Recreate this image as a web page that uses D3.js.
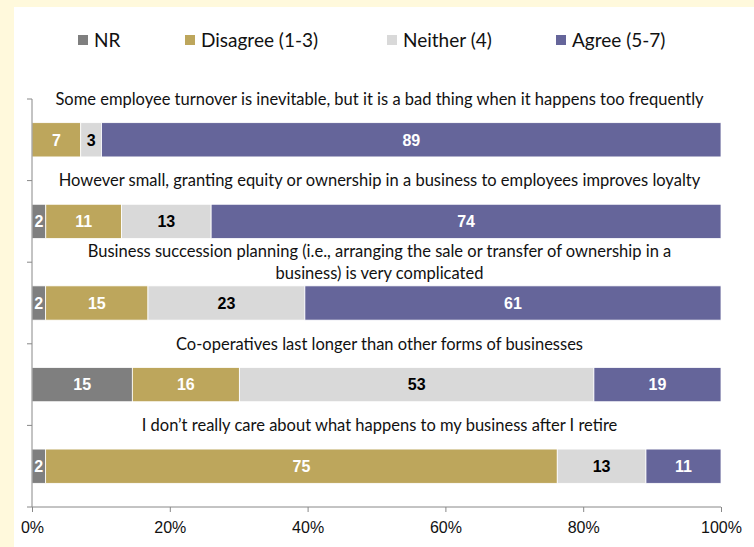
<!DOCTYPE html>
<html>
<head>
<meta charset="utf-8">
<script src="https://cdn.jsdelivr.net/npm/d3@7"></script>
<style>
  html, body { margin: 0; padding: 0; background: #fff9dc; }
  svg { display: block; }
</style>
</head>
<body>
<svg id="chart" width="754" height="547"></svg>
<script>
// Statements, top to bottom (lines split where the label wraps)
const categories = [
  ["Some employee turnover is inevitable, but it is a bad thing when it happens too frequently"],
  ["However small, granting equity or ownership in a business to employees improves loyalty"],
  ["Business succession planning (i.e., arranging the sale or transfer of ownership in a", "business) is very complicated"],
  ["Co-operatives last longer than other forms of businesses"],
  ["I don\u2019t really care about what happens to my business after I retire"]
];
const seriesNames = ["NR", "Disagree (1-3)", "Neither (4)", "Agree (5-7)"];
const nr       = [0, 2, 2, 15, 2];
const disagree = [7, 11, 15, 16, 75];
const neither  = [3, 13, 23, 53, 13];
const agree    = [89, 74, 61, 19, 11];
const tickValues = [0, 0.2, 0.4, 0.6, 0.8, 1];

const colors = ["#7f7f7f", "#bda65c", "#d9d9d9", "#65659a"];
const labelColors = ["#ffffff", "#ffffff", "#000000", "#ffffff"];

const svg = d3.select("#chart");

// white panel over the cream page
svg.append("rect").attr("x", 14).attr("y", 7).attr("width", 740).attr("height", 540).attr("fill", "#ffffff");

const rows = categories.map((c, i) => ({
  key: i, lines: c,
  NR: nr[i], "Disagree (1-3)": disagree[i], "Neither (4)": neither[i], "Agree (5-7)": agree[i]
}));
const stacked = d3.stack().keys(seriesNames).offset(d3.stackOffsetExpand)(rows);

const x = d3.scaleLinear().domain([0, 1]).range([32, 721]);
const y = d3.scaleBand().domain(rows.map(r => r.key)).range([99, 507]);
const barOffset = y.bandwidth() * 0.29, barH = y.bandwidth() * 0.42;

// stacked bars
const layer = svg.append("g").selectAll("g").data(stacked).join("g")
  .attr("fill", (d, i) => colors[i]);
layer.selectAll("rect").data(d => d.filter(s => s[1] > s[0])).join("rect")
  .attr("x", d => x(d[0]))
  .attr("y", d => y(d.data.key) + barOffset)
  .attr("width", d => x(d[1]) - x(d[0]))
  .attr("height", barH)
  .attr("stroke", "#ffffff").attr("stroke-width", 0.8);

// value labels
stacked.forEach((s, si) => {
  svg.append("g").selectAll("text").data(s.filter(d => d[1] > d[0])).join("text")
    .attr("x", d => (x(d[0]) + x(d[1])) / 2)
    .attr("y", d => y(d.data.key) + barOffset + barH / 2)
    .attr("dy", "0.36em")
    .attr("text-anchor", "middle")
    .attr("font-family", "'Liberation Sans', Arial, sans-serif")
    .attr("font-weight", "bold").attr("font-size", 16)
    .attr("fill", labelColors[si])
    .text(d => d.data[s.key]);
});

// statement labels, centred on the top edge of each band
const catG = svg.append("g").selectAll("text").data(rows).join("text")
  .attr("text-anchor", "middle")
  .attr("font-family", "Lato, 'Open Sans', sans-serif")
  .attr("font-size", 16.5)
  .attr("fill", "#111");
catG.each(function(d) {
  const t = d3.select(this);
  const n = d.lines.length, lh = 22;
  d.lines.forEach((ln, j) => {
    t.append("tspan")
      .attr("x", x(0.5) + 3)
      .attr("y", y(d.key) + (j - (n - 1) / 2) * lh)
      .attr("dy", "0.35em")
      .text(ln);
  });
});

// horizontal axis
const xAxis = svg.append("g").attr("transform", "translate(0,507)")
  .call(d3.axisBottom(x).tickValues(tickValues).tickFormat(d3.format(".0%")).tickSize(5).tickPadding(10));
xAxis.select(".domain").attr("stroke", "#888").attr("d", "M32,0H721");
xAxis.selectAll(".tick line").attr("stroke", "#888");
xAxis.selectAll("text").attr("font-family", "'Liberation Sans', Arial, sans-serif").attr("font-size", 16).attr("fill", "#111");

// vertical axis with ticks at band edges
const edges = rows.map(r => y(r.key)).concat([507]);
const yAxis = svg.append("g");
yAxis.append("line").attr("x1", 32).attr("x2", 32).attr("y1", 99).attr("y2", 507).attr("stroke", "#888");
yAxis.selectAll(".edge").data(edges).join("line").attr("class", "edge")
  .attr("x1", 27).attr("x2", 32).attr("y1", d => d).attr("y2", d => d).attr("stroke", "#888");

// legend
const legendX = [78, 185, 387, 556];
const lg = svg.append("g").selectAll("g").data(seriesNames).join("g")
  .attr("transform", (d, i) => `translate(${legendX[i]},40)`);
lg.append("rect").attr("x", 0).attr("y", -5).attr("width", 10).attr("height", 10)
  .attr("fill", (d, i) => colors[i]);
lg.append("text").attr("x", 16).attr("dy", "0.35em")
  .attr("font-family", "Lato, 'Open Sans', sans-serif").attr("font-size", 19).attr("fill", "#111")
  .text(d => d);
</script>
</body>
</html>
